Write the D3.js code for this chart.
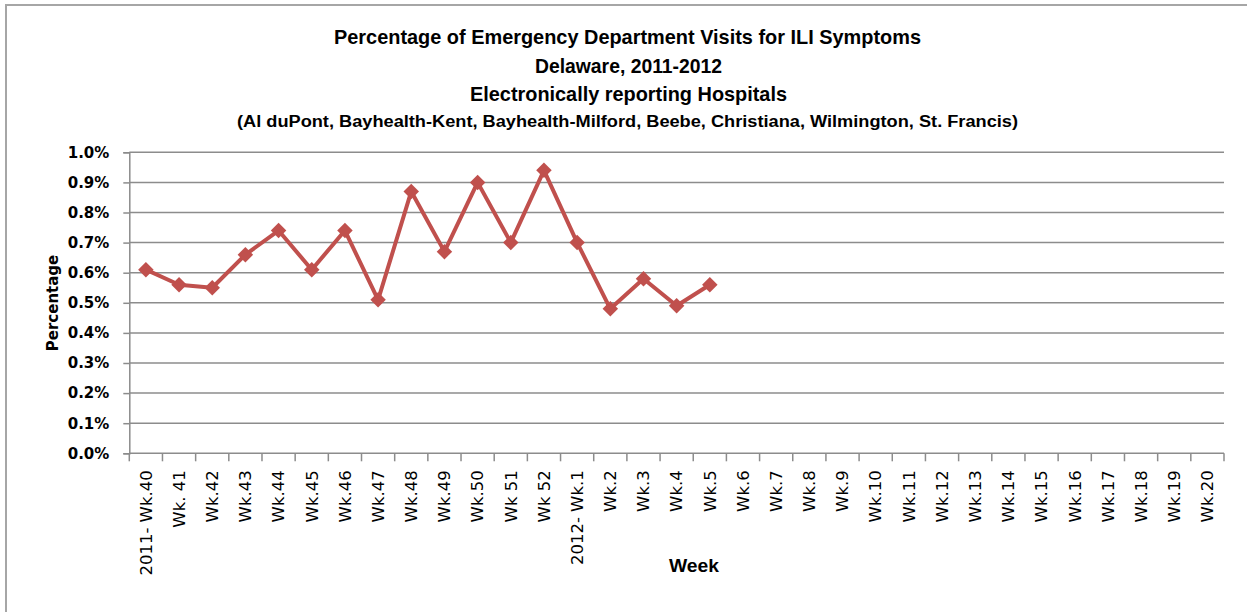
<html>
<head>
<script src="https://d3js.org/d3.v7.min.js"></script>
<style>
  body { margin: 0; background: #fff; }
  .tick text { fill: #000; }
</style>
</head>
<body>
<svg id="chart" width="1247" height="612"></svg>
<script>
// week labels along the x axis (2011 wk 40 through 2012 wk 20)
const weeks = ["2011- Wk.40", "Wk. 41", "Wk.42", "Wk.43", "Wk.44", "Wk.45", "Wk.46", "Wk.47",
  "Wk.48", "Wk.49", "Wk.50", "Wk 51", "Wk 52", "2012- Wk.1", "Wk.2", "Wk.3", "Wk.4", "Wk.5",
  "Wk.6", "Wk.7", "Wk.8", "Wk.9", "Wk.10", "Wk.11", "Wk.12", "Wk.13", "Wk.14", "Wk.15",
  "Wk.16", "Wk.17", "Wk.18", "Wk.19", "Wk.20"];
// percentage of ED visits, only reported weeks so far
const pct = [0.61, 0.56, 0.55, 0.66, 0.74, 0.61, 0.74, 0.51, 0.87, 0.67, 0.90, 0.70, 0.94,
  0.70, 0.48, 0.58, 0.49, 0.56];
const yTicks = [0, 0.1, 0.2, 0.3, 0.4, 0.5, 0.6, 0.7, 0.8, 0.9, 1.0];
const titles = ["Percentage of Emergency Department Visits for ILI Symptoms",
  "Delaware, 2011-2012", "Electronically reporting Hospitals",
  "(Al duPont, Bayhealth-Kent,  Bayhealth-Milford,  Beebe, Christiana, Wilmington, St. Francis)"];

const svg = d3.select('#chart');
const pLeft = 129.3, pRight = 1224, pTop = 152.3, pBottom = 453.3;
const grey = '#8c8c8c';

// outer frame
svg.append('rect').attr('x', 6).attr('y', 5).attr('width', 1260).attr('height', 620)
  .attr('fill', 'none').attr('stroke', '#a6a6a6').attr('stroke-width', 2);

const x = d3.scaleBand().domain(weeks).range([pLeft, pRight]).padding(0);
const y = d3.scaleLinear().domain([0, 1]).range([pBottom, pTop]);

// gridlines
svg.append('g').selectAll('line').data(yTicks.slice(1)).enter().append('line')
  .attr('x1', pLeft).attr('x2', pRight)
  .attr('y1', d => y(d)).attr('y2', d => y(d))
  .attr('stroke', grey).attr('stroke-width', 1.5);

// y axis
const yAxis = svg.append('g').attr('transform', `translate(${pLeft},0)`)
  .call(d3.axisLeft(y).tickValues(yTicks).tickSize(6).tickPadding(14)
    .tickFormat(d => d.toFixed(1) + '%'));
yAxis.select('.domain').attr('stroke', grey).attr('stroke-width', 1.5);
yAxis.selectAll('.tick line').attr('stroke', grey).attr('stroke-width', 1.5);
yAxis.selectAll('text').style('font-family', 'DejaVu Sans').style('font-weight', 'bold')
  .style('font-size', '15px');

// x axis, ticks on category boundaries
const xAxis = svg.append('g').attr('transform', `translate(0,${pBottom})`);
xAxis.append('line').attr('x1', pLeft).attr('x2', pRight).attr('y1', 0).attr('y2', 0)
  .attr('stroke', grey).attr('stroke-width', 1.5);
xAxis.selectAll('line.tk').data(weeks.concat(['end'])).enter().append('line').attr('class', 'tk')
  .attr('x1', (d, i) => pLeft + i * x.bandwidth()).attr('x2', (d, i) => pLeft + i * x.bandwidth())
  .attr('y1', 0).attr('y2', 8).attr('stroke', grey).attr('stroke-width', 1.5);
xAxis.selectAll('text').data(weeks).enter().append('text')
  .attr('transform', d => `translate(${x(d) + x.bandwidth() / 2},17) rotate(-90)`)
  .attr('text-anchor', 'end').attr('dy', '0.35em')
  .style('font-family', 'DejaVu Sans').style('font-size', '16.5px')
  .text(d => d);

// axis titles
svg.append('text').attr('transform', 'translate(53,303) rotate(-90)')
  .attr('text-anchor', 'middle').attr('dy', '0.35em')
  .style('font-family', 'DejaVu Sans').style('font-weight', 'bold').style('font-size', '15px')
  .text('Percentage');
svg.append('text').attr('x', 694).attr('y', 572).attr('text-anchor', 'middle')
  .style('font-family', 'Liberation Sans').style('font-weight', 'bold').style('font-size', '19px')
  .attr('textLength', 50).attr('lengthAdjust', 'spacingAndGlyphs')
  .text('Week');

// chart title
const tPos = [[334, 44, 587, 20.5], [535, 73, 187, 20.5], [470, 101, 317, 20.5], [237, 127, 781, 16]];
titles.forEach((t, i) => {
  svg.append('text').attr('x', tPos[i][0]).attr('y', tPos[i][1])
    .attr('textLength', tPos[i][2]).attr('lengthAdjust', 'spacingAndGlyphs')
    .style('font-family', 'Liberation Sans').style('font-weight', 'bold')
    .style('font-size', tPos[i][3] + 'px').text(t);
});

// series
const cx = (d, i) => x(weeks[i]) + x.bandwidth() / 2;
svg.append('path').datum(pct)
  .attr('d', d3.line().x(cx).y(d => y(d)))
  .attr('fill', 'none').attr('stroke', '#c0504d').attr('stroke-width', 4)
  .attr('stroke-linejoin', 'round');
svg.append('g').selectAll('path').data(pct).enter().append('path')
  .attr('d', d3.symbol().type(d3.symbolSquare).size(120))
  .attr('transform', (d, i) => `translate(${cx(d, i)},${y(d)}) rotate(45)`)
  .attr('fill', '#c0504d');
</script>
</body>
</html>
